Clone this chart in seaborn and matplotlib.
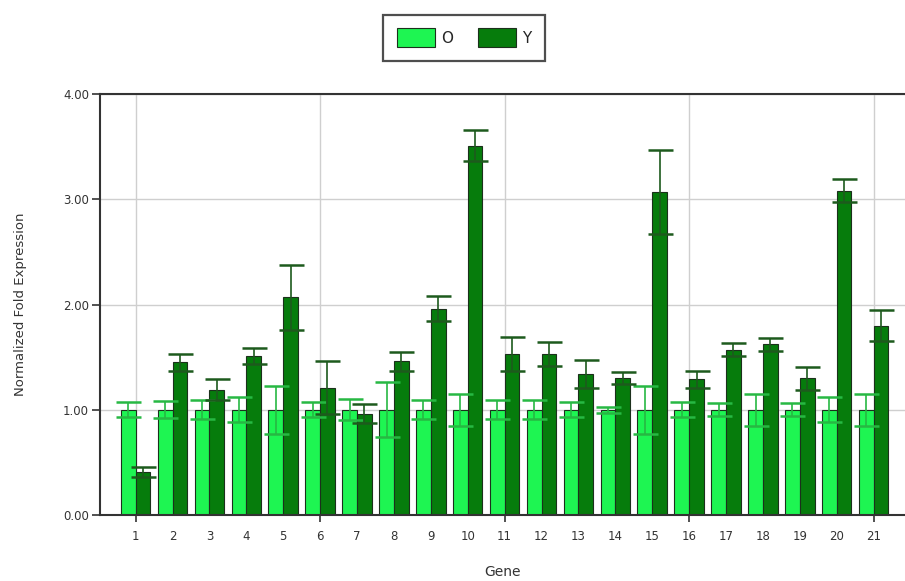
import matplotlib
matplotlib.use("Agg")
import matplotlib.pyplot as plt
import seaborn as sns
import pandas as pd
import numpy as np
from matplotlib.ticker import FixedLocator, FormatStrFormatter

genes = ["1", "2", "3", "4", "5", "6", "7", "8", "9", "10", "11",
         "12", "13", "14", "15", "16", "17", "18", "19", "20", "21"]
o_vals = [1.00, 1.00, 1.00, 1.00, 1.00, 1.00, 1.00, 1.00, 1.00, 1.00, 1.00,
          1.00, 1.00, 1.00, 1.00, 1.00, 1.00, 1.00, 1.00, 1.00, 1.00]
o_err = [0.07, 0.08, 0.09, 0.12, 0.23, 0.07, 0.10, 0.26, 0.09, 0.15, 0.09,
         0.09, 0.07, 0.03, 0.23, 0.07, 0.06, 0.15, 0.06, 0.12, 0.15]
y_vals = [0.41, 1.45, 1.19, 1.51, 2.07, 1.21, 0.96, 1.46, 1.96, 3.51, 1.53,
          1.53, 1.34, 1.30, 3.07, 1.29, 1.57, 1.62, 1.30, 3.08, 1.80]
y_err = [0.05, 0.08, 0.10, 0.08, 0.31, 0.25, 0.09, 0.09, 0.12, 0.15, 0.16,
         0.11, 0.13, 0.06, 0.40, 0.08, 0.06, 0.06, 0.11, 0.11, 0.15]
groups = ["O", "Y"]
grid_genes = ["1", "6", "11", "16", "21"]

sns.set_style("white")
plt.rcParams['font.family'] = ['DejaVu Sans']

df = pd.DataFrame({
    "Gene": genes * 2,
    "Group": ["O"] * len(genes) + ["Y"] * len(genes),
    "Value": o_vals + y_vals,
})

o_color = "#1ef552"
y_color = "#067c0c"
palette = {"O": o_color, "Y": y_color}

fig = plt.figure(figsize=(9.05, 5.81), dpi=100)
ax = fig.add_axes([100 / 905, 1 - 515 / 581, 1 - 100 / 905, (515 - 94) / 581])

sns.barplot(data=df, x="Gene", y="Value", hue="Group", order=genes,
            hue_order=groups, palette=palette, errorbar=None, width=0.8,
            edgecolor="#1c301c", linewidth=0.8, saturation=1, ax=ax,
            legend=True, zorder=2)

# error bars anchored to the bars drawn by seaborn
err_map = {"O": (o_err, "#27b843"), "Y": (y_err, "#1d5a1d")}
for cont, g in zip(ax.containers, groups):
    errs, ecol = err_map[g]
    xs = [p.get_x() + p.get_width() / 2 for p in cont.patches]
    hs = [p.get_height() for p in cont.patches]
    ax.errorbar(xs, hs, yerr=errs, fmt="none", ecolor=ecol, elinewidth=1.2,
                capsize=9, capthick=1.8, zorder=3)

ax.set_ylim(0, 4)
ax.set_xlim(-0.965, 20.85)
ax.yaxis.set_major_locator(FixedLocator([0, 1, 2, 3, 4]))
ax.yaxis.set_major_formatter(FormatStrFormatter("%.2f"))

major_pos = [genes.index(g) for g in grid_genes]
minor_genes = [g for g in genes if g not in grid_genes]
minor_pos = [genes.index(g) for g in minor_genes]
ax.set_xticks(major_pos, labels=grid_genes)
ax.set_xticks(minor_pos, labels=minor_genes, minor=True)
ax.tick_params(axis="x", which="major", length=5, width=1.2, color="#333333",
               direction="out", bottom=True, pad=6, labelsize=8.5,
               labelcolor="#333333")
ax.tick_params(axis="x", which="minor", length=0, bottom=True, pad=11,
               labelsize=8.5, labelcolor="#333333")
ax.tick_params(axis="y", which="major", length=6, width=1.2, color="#333333",
               direction="out", left=True, labelsize=8.5, labelcolor="#333333", pad=2)

ax.grid(False)
ax.set_axisbelow(True)
ax.yaxis.grid(True, which="major", color="#cfcfcf", linewidth=1)
ax.xaxis.grid(True, which="major", color="#cfcfcf", linewidth=1)

for s in ["left", "bottom", "top"]:
    ax.spines[s].set_visible(True)
    ax.spines[s].set_color("#333333")
    ax.spines[s].set_linewidth(1.5)
ax.spines["right"].set_visible(False)

ax.set_xlabel("Gene", fontsize=10, color="#333333", labelpad=16)
ax.set_ylabel("Normalized Fold Expression", fontsize=9.5, color="#333333", labelpad=26)

leg = ax.get_legend()
handles = leg.legend_handles
leg.remove()
leg = fig.legend(handles, groups, loc="center", bbox_to_anchor=(0.513, 0.935),
                 ncol=2, frameon=True, fancybox=False, edgecolor="#222222",
                 fontsize=11, handlelength=2.5, handleheight=1.5,
                 columnspacing=1.6, handletextpad=0.4, borderpad=0.9,
                 borderaxespad=0)
leg.get_frame().set_linewidth(1.6)
for h in leg.legend_handles:
    h.set_edgecolor("#1c301c")
    h.set_linewidth(0.8)

fig.savefig("out.png", dpi=100)
